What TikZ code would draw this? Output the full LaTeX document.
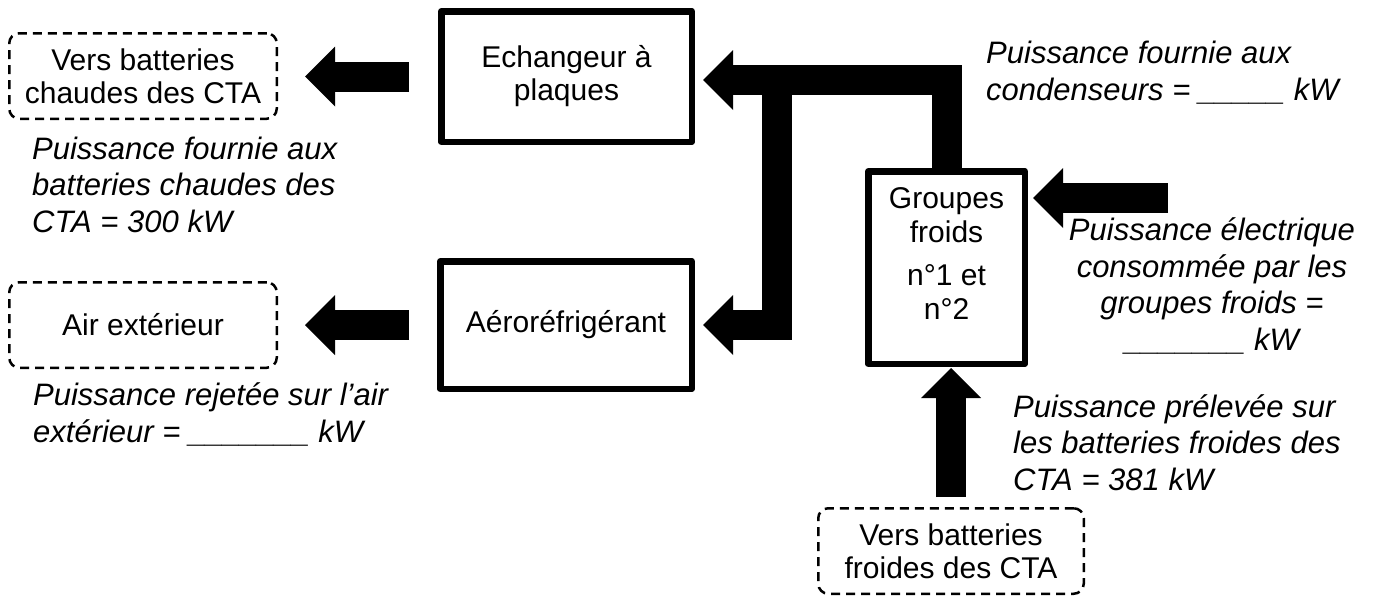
\documentclass[tikz,border=0pt]{standalone}
\usepackage{fontspec}
\setmainfont{Liberation Sans}
\usetikzlibrary{arrows.meta}
\begin{document}
\begin{tikzpicture}[x=1pt,y=-1pt,
  box/.style={draw, line width=6.5pt, inner sep=0pt, align=center, line join=round,
    font=\fontsize{30}{33}\selectfont},
  dbox/.style={draw, line width=2.5pt, dash pattern=on 9pt off 6pt, rounded corners=10pt,
    inner sep=0pt, align=center, font=\fontsize{30}{33}\selectfont},
  lbl/.style={inner sep=0pt, font=\fontsize{31}{36.5}\selectfont\itshape},
  blk/.style={line width=30pt, line join=miter,
    -{Triangle[length=30pt,width=60pt,line width=0pt]}},
]
\useasboundingbox (0,0) rectangle (1378,597);

% boxes
\node[box, minimum width=250.5pt, minimum height=130.5pt] (ech) at (566.5,76.5) {Echangeur à\\plaques};
\node[box, minimum width=251.5pt, minimum height=127.5pt] (aero) at (566,325) {Aéroréfrigérant};
\node[box, minimum width=156.5pt, minimum height=192.5pt] (gf) at (946.5,267.5) {};
\node[inner sep=0pt, align=center, font=\fontsize{30}{34}\selectfont, anchor=base] (gft) at (946.5,319)
  {Groupes\\froids\\[9pt]n°1 et\\n°2};

% dashed boxes
\node[dbox, minimum width=267.5pt, minimum height=85.5pt] (vbc) at (143,76) {Vers batteries\\chaudes des CTA};
\node[dbox, minimum width=267.5pt, minimum height=85.5pt] (air) at (143,325) {Air extérieur};
\node[dbox, minimum width=265.5pt, minimum height=85.5pt] (vbf) at (951,551) {Vers batteries\\froides des CTA};

% labels (base anchor = baseline of the last line)
\node[lbl, anchor=base west, align=left] (l1) at (32,232)
  {Puissance fournie aux\\batteries chaudes des\\CTA = 300 kW};
\node[lbl, anchor=base west, align=left] (l2) at (33,442)
  {Puissance rejetée sur l’air\\extérieur = \_\_\_\_\_\_\_ kW};
\node[lbl, anchor=base west, align=left] (l3) at (986,100)
  {Puissance fournie aux\\condenseurs = \_\_\_\_\_ kW};
\node[lbl, anchor=base, align=center] (l4) at (1212,350)
  {Puissance électrique\\consommée par les\\groupes froids =\\\_\_\_\_\_\_\_ kW};
\node[lbl, anchor=base west, align=left] (l5) at (1013,490)
  {Puissance prélevée sur\\les batteries froides des\\CTA = 381 kW};

% block arrows
\coordinate (j) at (777,80);
\coordinate (e) at (1168,198);
\draw[blk, shorten >=8pt] (gf.north) |- (ech.east |- j);
\draw[blk, shorten >=8pt] (j) |- (aero.east);
\draw[blk, shorten <=29pt, shorten >=27pt] (ech.west) -- (vbc.east |- ech.west);
\draw[blk, shorten <=28pt, shorten >=27pt] (aero.west) -- (air.east |- aero.west);
\draw[blk, shorten >=5pt] (e) -- (gf.east |- e);
\draw[blk, shorten <=10pt, shorten >=1pt] (vbf.north) -- (gf.south -| vbf.north);
\end{tikzpicture}
\end{document}
